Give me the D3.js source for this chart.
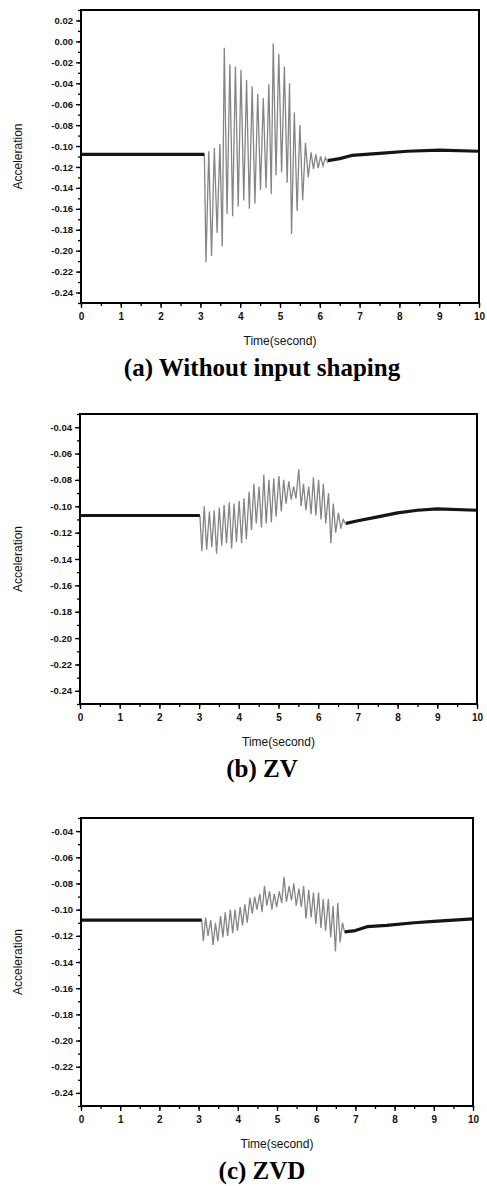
<!DOCTYPE html>
<html>
<head>
<meta charset="utf-8">
<script src="https://cdn.jsdelivr.net/npm/d3@7"></script>
<style>
  body { margin: 0; background: #fff; }
  svg text { font-family: "Liberation Sans", Arial, sans-serif; fill: #111; }
  .cap { font-family: "Liberation Serif", "Times New Roman", serif; font-weight: bold; fill: #000; }
</style>
</head>
<body>
<svg id="fig" width="487" height="1186"></svg>
<script>
// values
const xTicks = [0, 1, 2, 3, 4, 5, 6, 7, 8, 9, 10];
const yTicksA = [0.02, 0.00, -0.02, -0.04, -0.06, -0.08, -0.10, -0.12, -0.14, -0.16, -0.18, -0.20, -0.22, -0.24];
const yTicksBC = [-0.04, -0.06, -0.08, -0.10, -0.12, -0.14, -0.16, -0.18, -0.20, -0.22, -0.24];
const captions = ["(a) Without input shaping", "(b) ZV", "(c) ZVD"];

// (a) without input shaping
const restTimeA = [0, 3.10];
const restAccA = [-0.108, -0.108];
const swingTimeA = [3.10, 3.14, 3.21, 3.28, 3.35, 3.42, 3.49, 3.55, 3.60, 3.67, 3.74, 3.81, 3.88, 3.95, 4.02, 4.09,
  4.16, 4.23, 4.30, 4.37, 4.44, 4.51, 4.58, 4.65, 4.72, 4.78, 4.83, 4.90, 4.97, 5.04, 5.11, 5.18, 5.24, 5.29,
  5.36, 5.43, 5.50, 5.57, 5.64, 5.71, 5.78, 5.84, 5.90, 5.96, 6.02, 6.08, 6.14, 6.20];
const swingAccA = [-0.108, -0.211, -0.105, -0.205, -0.102, -0.183, -0.098, -0.196, -0.006, -0.165, -0.022, -0.167,
  -0.024, -0.158, -0.027, -0.152, -0.037, -0.160, -0.043, -0.155, -0.050, -0.142, -0.054, -0.140, -0.041, -0.146,
  -0.002, -0.128, -0.012, -0.125, -0.024, -0.135, -0.040, -0.184, -0.068, -0.162, -0.080, -0.152, -0.097, -0.130,
  -0.106, -0.122, -0.108, -0.121, -0.110, -0.119, -0.111, -0.116];
const tailTimeA = [6.20, 6.5, 6.8, 7.5, 8.2, 9.0, 10];
const tailAccA = [-0.114, -0.112, -0.109, -0.107, -0.105, -0.104, -0.105];

// (b) ZV shaper
const restTimeB = [0, 3.02];
const restAccB = [-0.107, -0.107];
const swingTimeB = [3.02, 3.07, 3.13, 3.19, 3.26, 3.32, 3.38, 3.44, 3.51, 3.57, 3.63, 3.69, 3.76, 3.82, 3.88, 3.94,
  4.01, 4.07, 4.13, 4.19, 4.26, 4.32, 4.38, 4.44, 4.51, 4.57, 4.63, 4.69, 4.76, 4.82, 4.88, 4.94, 5.01, 5.07,
  5.13, 5.19, 5.26, 5.32, 5.38, 5.44, 5.51, 5.57, 5.63, 5.69, 5.76, 5.82, 5.88, 5.94, 6.01, 6.07, 6.13, 6.19,
  6.26, 6.32, 6.38, 6.44, 6.51, 6.57, 6.63, 6.70];
const swingAccB = [-0.107, -0.134, -0.100, -0.133, -0.104, -0.131, -0.103, -0.136, -0.101, -0.130, -0.099, -0.128,
  -0.097, -0.132, -0.098, -0.127, -0.096, -0.128, -0.094, -0.125, -0.089, -0.118, -0.083, -0.113, -0.085, -0.116,
  -0.076, -0.113, -0.080, -0.112, -0.079, -0.108, -0.077, -0.104, -0.080, -0.098, -0.081, -0.095, -0.085, -0.094,
  -0.072, -0.100, -0.083, -0.103, -0.085, -0.106, -0.078, -0.107, -0.080, -0.110, -0.083, -0.113, -0.090, -0.128,
  -0.098, -0.120, -0.105, -0.117, -0.110, -0.114];
const tailTimeB = [6.70, 7.0, 7.5, 8.0, 8.5, 9.0, 10];
const tailAccB = [-0.113, -0.111, -0.108, -0.105, -0.103, -0.102, -0.103];

// (c) ZVD shaper
const restTimeC = [0, 3.08];
const restAccC = [-0.108, -0.108];
const swingTimeC = [3.08, 3.12, 3.18, 3.24, 3.31, 3.37, 3.43, 3.49, 3.56, 3.62, 3.68, 3.74, 3.81, 3.87, 3.93, 3.99,
  4.06, 4.12, 4.18, 4.24, 4.31, 4.37, 4.43, 4.49, 4.56, 4.62, 4.68, 4.74, 4.81, 4.87, 4.93, 4.99, 5.06, 5.12,
  5.18, 5.24, 5.31, 5.37, 5.43, 5.49, 5.56, 5.62, 5.68, 5.74, 5.81, 5.87, 5.93, 5.99, 6.06, 6.12, 6.18, 6.24,
  6.31, 6.37, 6.43, 6.49, 6.55, 6.61, 6.67, 6.73];
const swingAccC = [-0.108, -0.124, -0.106, -0.120, -0.108, -0.127, -0.110, -0.124, -0.105, -0.121, -0.102, -0.120,
  -0.100, -0.118, -0.100, -0.116, -0.098, -0.112, -0.096, -0.110, -0.091, -0.103, -0.090, -0.100, -0.088, -0.102,
  -0.082, -0.097, -0.086, -0.100, -0.088, -0.098, -0.086, -0.095, -0.075, -0.094, -0.082, -0.093, -0.080, -0.097,
  -0.084, -0.098, -0.082, -0.107, -0.085, -0.106, -0.087, -0.111, -0.087, -0.114, -0.092, -0.116, -0.092, -0.121,
  -0.097, -0.132, -0.095, -0.125, -0.110, -0.118];
const tailTimeC = [6.73, 7.0, 7.3, 7.8, 8.5, 9.0, 9.5, 10];
const tailAccC = [-0.117, -0.116, -0.113, -0.112, -0.110, -0.109, -0.108, -0.107];

// panel placement on the page
const panels = [
  { left: 81, right: 479, top: 10, bottom: 303, yDomain: [-0.25, 0.03], yTicks: yTicksA,
    rest: [restTimeA, restAccA], swing: [swingTimeA, swingAccA], tail: [tailTimeA, tailAccA] },
  { left: 80, right: 477, top: 414, bottom: 704, yDomain: [-0.25, -0.03], yTicks: yTicksBC,
    rest: [restTimeB, restAccB], swing: [swingTimeB, swingAccB], tail: [tailTimeB, tailAccB] },
  { left: 81, right: 473, top: 818, bottom: 1106, yDomain: [-0.25, -0.03], yTicks: yTicksBC,
    rest: [restTimeC, restAccC], swing: [swingTimeC, swingAccC], tail: [tailTimeC, tailAccC] }
];

const svg = d3.select("#fig");

panels.forEach((p, i) => drawPanel(p, i));

function drawPanel(p, i) {
  let x = d3.scaleLinear().domain([0, 10]).range([p.left, p.right]);
  let y = d3.scaleLinear().domain(p.yDomain).range([p.bottom, p.top]);
  let g = svg.append("g").attr("class", "panel" + i);

  let line = d3.line()
    .x(d => x(d[0]))
    .y(d => y(d[1]));

  // oscillating part: thin grey strokes
  g.append("path")
    .datum(d3.zip(p.swing[0], p.swing[1]))
    .attr("d", line)
    .attr("fill", "none")
    .attr("stroke", "#858585")
    .attr("stroke-width", 1.3);

  // resting parts: heavy dark trace
  [p.rest, p.tail].forEach(s => {
    g.append("path")
      .datum(d3.zip(s[0], s[1]))
      .attr("d", line)
      .attr("fill", "none")
      .attr("stroke", "#151515")
      .attr("stroke-width", 3.2)
      .attr("stroke-linejoin", "round");
  });

  // minor ticks
  g.append("g")
    .attr("transform", `translate(0,${p.bottom})`)
    .call(d3.axisBottom(x).tickValues(x.ticks(20)).tickSize(3).tickFormat(""))
    .call(a => a.select(".domain").remove());
  g.append("g")
    .attr("transform", `translate(${p.left},0)`)
    .call(d3.axisLeft(y).tickValues(y.ticks(30)).tickSize(3).tickFormat(""))
    .call(a => a.select(".domain").remove());

  // major ticks with labels
  let xa = g.append("g")
    .attr("transform", `translate(0,${p.bottom})`)
    .call(d3.axisBottom(x).tickValues(xTicks).tickSize(5).tickPadding(5).tickFormat(d3.format("d")));
  xa.select(".domain").remove();
  xa.selectAll("text").attr("font-size", 10).attr("font-weight", "bold");

  let ya = g.append("g")
    .attr("transform", `translate(${p.left},0)`)
    .call(d3.axisLeft(y).tickValues(p.yTicks).tickSize(5).tickPadding(3)
      .tickFormat(d => d.toFixed(2)));
  ya.select(".domain").remove();
  ya.selectAll("text").attr("font-size", 9.5).attr("font-weight", "bold");

  g.selectAll(".tick line").attr("stroke", "#000").attr("stroke-width", 1.3);

  // frame
  g.append("rect")
    .attr("x", p.left).attr("y", p.top)
    .attr("width", p.right - p.left).attr("height", p.bottom - p.top)
    .attr("fill", "none").attr("stroke", "#000").attr("stroke-width", 2);

  // axis titles
  g.append("text")
    .attr("transform", `translate(22,${(p.top + p.bottom) / 2}) rotate(-90)`)
    .attr("text-anchor", "middle")
    .attr("font-size", 12)
    .text("Acceleration");
  g.append("text")
    .attr("x", (p.left + p.right) / 2)
    .attr("y", p.bottom + 42)
    .attr("text-anchor", "middle")
    .attr("font-size", 12)
    .text("Time(second)");

  g.append("text")
    .attr("class", "cap")
    .attr("x", 262)
    .attr("y", p.bottom + 73)
    .attr("text-anchor", "middle")
    .attr("font-size", 25)
    .text(captions[i]);
}
</script>
</body>
</html>
